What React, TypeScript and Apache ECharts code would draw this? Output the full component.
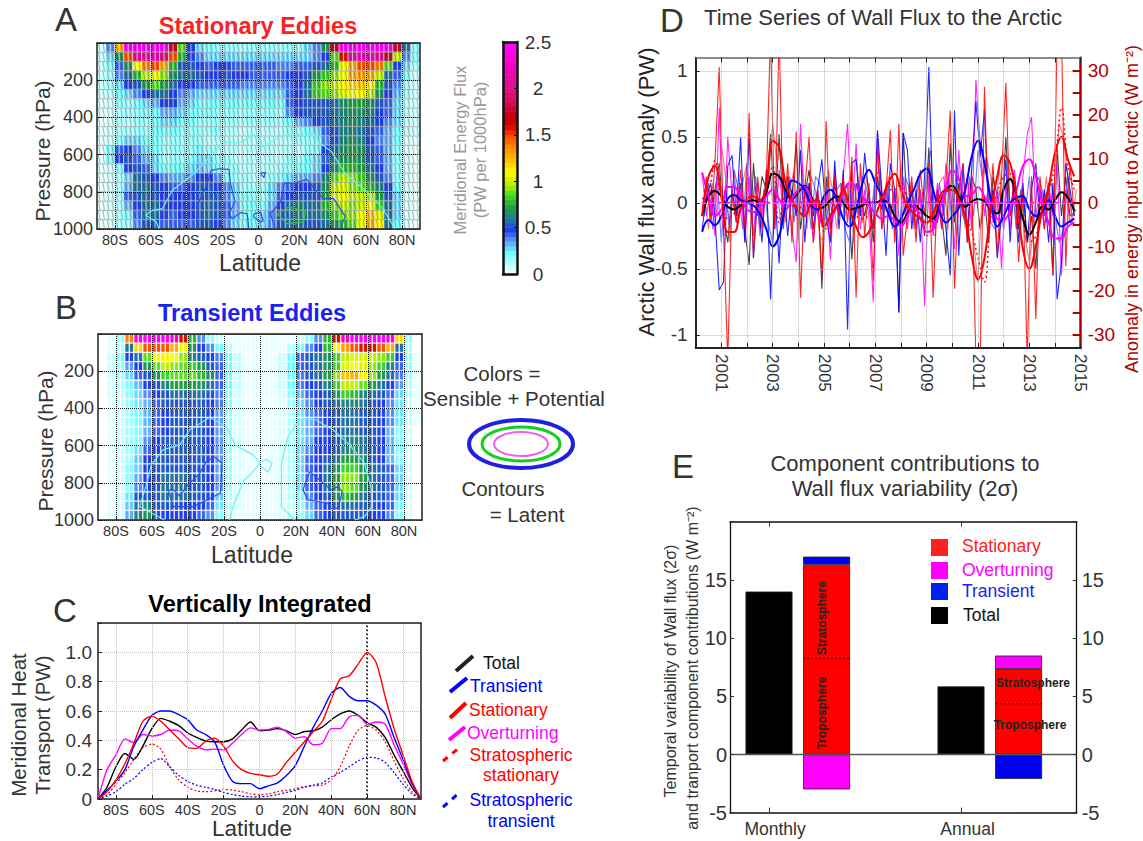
import React, { useEffect, useRef } from "react";
import * as echarts from "echarts";

const FONT = "Liberation Sans";
const INK = "#333333";

const colorStops = ["#ffffff","#c0ffff","#70ffff","#60a0ff","#2040f0","#208090","#20a040","#40e020","#c0f000","#ffff00","#ffc000","#ff9000","#ff5000","#d00000","#c00010","#d01050","#e01080","#e010a0","#f000c0","#ff00e0","#ff00ff"];
const colorbarLevels = [.05,.1,.15,.2,.25,.3,.35,.4,.45,.5,.55,.6,.65,.7,.75,.8,.85,.9,.95,1,1.05,1.1,1.15,1.2,1.25,1.3,1.35,1.4,1.45,1.5,1.55,1.6,1.65,1.7,1.75,1.8,1.85,1.9,1.95,2,2.05,2.1,2.15,2.2,2.25,2.3,2.35,2.4,2.45,2.5];

const cellLats = [-87.5,-82.5,-77.5,-72.5,-67.5,-62.5,-57.5,-52.5,-47.5,-42.5,-37.5,-32.5,-27.5,-22.5,-17.5,-12.5,-7.5,-2.5,2.5,7.5,12.5,17.5,22.5,27.5,32.5,37.5,42.5,47.5,52.5,57.5,62.5,67.5,72.5,77.5,82.5,87.5];
const cellPressures = [25,75,125,175,225,275,325,375,425,475,525,575,625,675,725,775,825,875,925,975];
const latTicks = [-80,-60,-40,-20,0,20,40,60,80];

const stationaryField = [
[.1,.4,1.3,2.5,2.5,2.5,2.5,2.5,1.8,.9,.5,.3,.25,.2,.2,.2,.2,.2,.2,.2,.2,.2,.2,.3,.4,.7,1.8,2.5,2.5,2.5,2.5,2.5,2.5,1.8,.6,.2],
[.1,.3,.7,1.5,2,2.2,2.2,2,1.5,.8,.5,.4,.3,.3,.3,.3,.3,.3,.3,.3,.3,.3,.3,.3,.4,.5,.9,1.6,2.1,2.2,2.2,2.1,1.8,1,.4,.2],
[.1,.25,.45,.7,1.1,1.4,1.5,1.3,.8,.55,.55,.5,.45,.5,.5,.45,.45,.45,.45,.45,.4,.4,.45,.45,.55,.6,.8,1.1,1.3,1.5,1.5,1.4,.9,.5,.3,.15],
[.1,.2,.4,.6,.8,1,1.1,.95,.7,.6,.6,.55,.5,.5,.55,.5,.5,.45,.45,.45,.45,.5,.5,.55,.75,.85,.95,1.1,1.3,1.35,1.3,1,.6,.45,.25,.1],
[.1,.2,.3,.5,.55,.75,.9,.75,.6,.5,.5,.45,.45,.45,.45,.45,.4,.4,.4,.4,.4,.45,.5,.6,.85,.95,1,1.15,1.2,1.25,1.15,.8,.55,.4,.2,.1],
[.1,.15,.25,.3,.4,.5,.6,.6,.5,.4,.35,.3,.3,.3,.3,.3,.3,.3,.3,.3,.3,.45,.5,.6,.85,.9,.95,1.05,1.1,1.15,1,.7,.5,.35,.2,.1],
[.05,.1,.2,.2,.25,.3,.35,.5,.5,.35,.3,.25,.25,.25,.25,.25,.25,.25,.25,.25,.25,.45,.5,.55,.55,.55,.6,.7,.75,.75,.7,.55,.45,.3,.15,.1],
[.05,.1,.15,.2,.2,.25,.25,.35,.35,.3,.25,.25,.25,.2,.2,.2,.2,.2,.2,.2,.2,.4,.5,.55,.55,.55,.6,.65,.7,.7,.65,.5,.45,.3,.15,.1],
[.05,.1,.15,.15,.2,.2,.25,.3,.3,.25,.25,.2,.2,.2,.2,.2,.2,.2,.2,.2,.2,.25,.35,.4,.5,.55,.6,.65,.7,.65,.6,.5,.4,.3,.15,.1],
[.05,.1,.15,.2,.2,.2,.25,.25,.25,.2,.2,.2,.2,.2,.15,.15,.15,.15,.15,.15,.15,.2,.2,.25,.3,.45,.55,.65,.65,.6,.55,.45,.35,.25,.15,.1],
[.05,.1,.2,.3,.3,.25,.25,.2,.2,.2,.2,.2,.15,.15,.15,.15,.15,.15,.15,.15,.15,.15,.2,.2,.25,.4,.55,.65,.7,.65,.5,.4,.35,.25,.1,.05],
[.05,.25,.45,.5,.4,.3,.25,.2,.2,.2,.2,.25,.2,.15,.15,.15,.15,.15,.15,.15,.15,.15,.15,.2,.25,.5,.6,.7,.75,.7,.55,.45,.35,.2,.1,.05],
[.05,.25,.5,.55,.45,.35,.3,.2,.2,.2,.25,.3,.3,.2,.2,.15,.15,.15,.15,.15,.15,.2,.2,.25,.3,.45,.65,.7,.75,.7,.55,.45,.35,.2,.1,.05],
[.05,.1,.2,.5,.55,.45,.3,.25,.25,.25,.3,.35,.3,.25,.2,.2,.15,.15,.15,.15,.2,.2,.25,.25,.3,.5,.7,.8,.8,.75,.6,.5,.35,.2,.1,.05],
[.05,.1,.15,.3,.6,.55,.5,.4,.35,.35,.4,.5,.5,.4,.25,.2,.2,.15,.15,.2,.25,.3,.35,.35,.4,.65,.9,1,.95,.85,.7,.55,.4,.2,.1,.05],
[.05,.1,.15,.35,.6,.6,.55,.5,.45,.45,.5,.55,.55,.5,.4,.3,.2,.2,.2,.3,.4,.45,.5,.5,.55,.7,1,1.05,.95,.9,.8,.65,.5,.25,.1,.05],
[.05,.1,.15,.45,.55,.6,.55,.5,.5,.5,.5,.55,.55,.55,.4,.3,.25,.2,.2,.3,.45,.5,.55,.55,.55,.75,1.05,1.1,1,1,1,.75,.55,.3,.1,.05],
[.05,.1,.15,.35,.5,.6,.6,.5,.5,.5,.5,.55,.6,.55,.45,.35,.25,.25,.25,.35,.5,.6,.65,.6,.6,.8,.95,1,.95,1,1.15,.85,.6,.3,.1,.05],
[.05,.1,.15,.25,.45,.6,.6,.5,.45,.5,.5,.55,.6,.55,.45,.35,.25,.25,.3,.4,.55,.6,.65,.6,.6,.7,.85,.95,.95,1.1,1.25,1.05,.6,.3,.1,.05],
[.05,.1,.15,.2,.4,.55,.55,.45,.45,.45,.45,.55,.55,.5,.4,.3,.25,.25,.3,.4,.55,.6,.6,.55,.55,.6,.7,.8,.9,1.1,1.3,1.15,.6,.25,.1,.05],
];
const transientField = [
[0,.05,.2,1.4,2.4,2.5,2.5,2.5,2.3,1.6,.8,.4,.2,.1,.05,.05,.05,.05,.05,.05,.05,.05,.1,.2,.4,.8,1.6,2.3,2.5,2.5,2.5,2.5,2.4,1.2,.2,0],
[0,.05,.15,.6,1.2,1.5,1.5,1.5,1.3,1.1,.7,.5,.4,.25,.15,.05,.05,.05,.05,.05,.05,.15,.25,.4,.5,.8,1.1,1.35,1.5,1.6,1.6,1.5,1.3,.6,.15,0],
[0,.1,.25,.5,.6,.9,1.1,1.15,1.1,.95,.65,.55,.5,.42,.25,.12,.05,.05,.05,.05,.12,.25,.45,.55,.6,.7,.85,1,1.05,1.05,1,.95,.85,.5,.2,.05],
[0,.1,.2,.38,.5,.7,.9,1,.95,.9,.85,.75,.55,.45,.25,.12,.05,.05,.05,.05,.12,.25,.45,.55,.6,.7,.85,1.05,1.1,1.05,.95,.85,.65,.45,.2,.05],
[0,.1,.18,.3,.45,.55,.7,.85,.9,.9,.9,.8,.7,.45,.25,.12,.05,.05,.05,.05,.12,.25,.42,.55,.6,.75,.95,1.25,1.3,1.15,.95,.75,.6,.42,.18,.05],
[0,.08,.15,.25,.35,.5,.55,.65,.75,.75,.75,.7,.6,.45,.25,.12,.05,.05,.05,.05,.12,.25,.42,.5,.55,.65,.85,1,1,.9,.75,.6,.5,.38,.15,.05],
[0,.08,.12,.2,.3,.4,.5,.55,.6,.6,.6,.6,.55,.42,.22,.1,.05,.05,.05,.05,.1,.2,.35,.45,.5,.55,.7,.85,.8,.65,.6,.55,.45,.3,.15,.05],
[0,.05,.12,.2,.28,.35,.45,.55,.55,.55,.55,.55,.5,.42,.22,.1,.05,.05,.05,.05,.08,.18,.3,.4,.5,.55,.6,.65,.65,.6,.55,.5,.4,.28,.12,.05],
[0,.05,.1,.18,.25,.35,.45,.5,.55,.55,.55,.55,.5,.38,.2,.08,.05,.05,.05,.05,.08,.15,.28,.4,.45,.5,.55,.6,.6,.55,.55,.5,.4,.28,.12,.05],
[0,.05,.1,.18,.22,.35,.45,.5,.55,.55,.55,.55,.5,.38,.18,.08,.05,.05,.05,.05,.08,.15,.28,.35,.45,.5,.55,.6,.6,.55,.55,.5,.4,.28,.12,.05],
[0,.05,.1,.18,.22,.35,.45,.5,.55,.55,.55,.55,.5,.38,.18,.08,.05,.05,.05,.05,.08,.15,.28,.35,.45,.5,.55,.6,.6,.55,.55,.5,.35,.22,.1,0],
[0,.05,.1,.18,.22,.4,.5,.55,.55,.55,.55,.55,.5,.38,.18,.08,.05,.05,.05,.05,.08,.15,.28,.35,.5,.5,.55,.6,.65,.6,.55,.5,.35,.22,.1,0],
[0,.05,.1,.18,.28,.45,.5,.55,.55,.55,.55,.55,.5,.38,.18,.08,.05,.05,.05,.05,.08,.15,.3,.4,.5,.5,.55,.65,.7,.6,.55,.5,.35,.22,.1,0],
[0,.05,.1,.18,.32,.5,.55,.55,.55,.55,.55,.55,.5,.38,.18,.08,.05,.05,.05,.05,.08,.15,.3,.45,.5,.55,.6,.75,.75,.65,.55,.5,.35,.22,.1,0],
[0,.05,.1,.22,.32,.5,.55,.55,.55,.55,.55,.55,.5,.38,.18,.08,.05,.05,.05,.05,.08,.15,.3,.45,.5,.6,.7,.85,.85,.7,.6,.55,.45,.3,.1,0],
[0,.05,.1,.22,.36,.5,.55,.6,.6,.6,.55,.55,.5,.38,.18,.08,.05,.05,.05,.05,.08,.15,.3,.45,.5,.6,.75,.95,.95,.75,.6,.55,.45,.3,.1,0],
[0,.05,.1,.22,.4,.5,.55,.6,.6,.6,.55,.55,.5,.38,.18,.08,.05,.05,.05,.05,.08,.15,.3,.45,.5,.6,.75,.95,.9,.7,.6,.55,.45,.3,.1,0],
[0,.05,.1,.28,.55,.55,.55,.6,.6,.6,.55,.55,.5,.32,.15,.08,.05,.05,.05,.05,.08,.15,.25,.4,.5,.55,.7,.8,.75,.6,.55,.55,.45,.3,.1,0],
[0,.05,.1,.32,.6,.65,.55,.55,.55,.5,.5,.5,.45,.28,.15,.08,.05,.05,.05,.05,.08,.12,.2,.35,.45,.5,.55,.6,.6,.55,.55,.5,.45,.25,.08,0],
[0,.05,.1,.36,.65,.7,.55,.5,.5,.5,.5,.45,.4,.22,.12,.05,.05,.05,.05,.05,.08,.12,.2,.3,.45,.5,.55,.55,.55,.55,.5,.5,.4,.2,.08,0],
];

const contoursA = [
  { color: "#3050e0", pts: [[-34.4,998],[-33.7,864],[-29.4,774],[-26.3,685],[-22,676],[-16.5,679],[-15.6,756],[-13,855],[-16.5,918],[-14.6,944],[-10,912],[-6.3,918],[-5.4,998]] },
  { color: "#3050e0", pts: [[-2.6,918],[1.3,912],[2.6,957],[1.1,962],[-2.6,935],[-2.6,918]] },
  { color: "#3050e0", pts: [[1.1,699],[3.9,697],[3,724],[1.1,699]] },
  { color: "#3050e0", pts: [[9.4,998],[6.7,918],[12.2,855],[14.6,751],[19.6,756],[27,733],[32.6,801],[36.3,837],[41.9,837],[48.3,932],[45.6,998]] },
  { color: "#40c040", pts: [[10.4,918],[16.9,882],[26.1,903],[25.2,962],[15.9,971],[10.4,918]] },
  { color: "#70f0f0", pts: [[-55.4,998],[-57,962],[-62.8,926],[-60,903],[-53.5,890],[-48,792],[-36.9,710],[-25.7,600],[-20.2,532],[-10.9,538],[-1.7,493],[2,559],[13.1,500],[30.7,484],[33.5,532],[40.9,586],[48.3,703],[59.4,792],[68.7,882],[76.1,998]] },
];
const contoursB = [
  { color: "#70f0f0", pts: [[-53,1000],[-65,937],[-66.9,928],[-63,808],[-60.4,704],[-53.9,623],[-44.6,596],[-39,515],[-28,449],[-18.7,497],[-14,596],[-3.9,650],[0,693],[-3.9,740],[-9.4,794],[-15,929],[-16.9,1000]] },
  { color: "#70f0f0", pts: [[0,693],[3.5,673],[6.7,695],[4.4,743],[0,705]] },
  { color: "#70f0f0", pts: [[19.3,1000],[11.9,928],[11.9,695],[15.6,551],[22,461],[30.4,458],[40.6,515],[49.8,596],[58.1,695],[61.9,838],[61.9,928],[58.1,982],[52.6,1000]] },
  { color: "#3050e0", pts: [[-51,838],[-48.3,928],[-37,928],[-22,856],[-21.1,695],[-25.2,662],[-29.8,686],[-33.5,749],[-40.9,820],[-44.6,872],[-48,838],[-51,838]] },
  { color: "#3050e0", pts: [[27.6,740],[23.9,838],[26.6,892],[37.8,910],[38.7,937],[43.3,937],[45.7,847],[43.3,820],[39.6,838],[27.6,740]] },
];

const latC = [-90,-85,-80,-75,-70,-65,-60,-55,-50,-45,-40,-35,-30,-25,-20,-15,-10,-5,0,5,10,15,20,25,30,35,40,45,50,55,60,65,70,75,80,85,90];
const totalC = [0,.08,.22,.31,.27,.36,.48,.55,.53,.5,.45,.42,.395,.39,.39,.41,.47,.525,.465,.47,.48,.465,.44,.46,.465,.49,.54,.58,.6,.57,.52,.49,.42,.3,.19,.08,0];
const transientC = [0,.06,.12,.2,.36,.47,.57,.6,.6,.575,.54,.47,.44,.39,.23,.12,.105,.105,.07,.09,.11,.16,.23,.36,.49,.6,.72,.76,.7,.67,.67,.64,.58,.42,.27,.11,0];
const stationaryC = [0,.05,.13,.24,.38,.53,.565,.53,.47,.41,.35,.345,.395,.415,.36,.26,.2,.175,.165,.155,.17,.25,.32,.39,.46,.53,.68,.82,.84,.92,1,.93,.7,.48,.3,.12,0];
const overturningC = [0,.2,.3,.41,.385,.44,.43,.44,.47,.465,.41,.36,.335,.34,.335,.38,.44,.485,.47,.475,.49,.46,.415,.425,.37,.38,.48,.48,.56,.57,.51,.525,.51,.37,.24,.1,0];
const stratStationaryC = [0,.03,.1,.18,.27,.35,.375,.34,.22,.13,.08,.055,.05,.055,.065,.06,.05,.035,.03,.035,.05,.06,.07,.085,.09,.095,.13,.22,.36,.47,.5,.47,.39,.26,.14,.05,0];
const stratTransientC = [0,.02,.05,.1,.14,.2,.25,.275,.22,.16,.12,.095,.08,.065,.045,.03,.02,.015,.015,.02,.03,.045,.06,.08,.095,.11,.15,.18,.22,.26,.285,.28,.25,.18,.1,.035,0];

// Panel D: bi-monthly thin traces (from 2000.25) and quarterly thick traces (from 2000.25)
const thinRed = [-.1,.2,-.15,.3,1.03,-.2,-1.2,.1,-.15,.25,-.2,.68,-.42,.2,-.2,.15,1.3,-.2,1.3,-.2,.3,-.3,.54,-.72,.1,.5,-.3,.1,-.58,.62,-.25,.2,-.1,.2,-.15,.35,-.72,.3,-.25,.15,-.59,.43,-.2,.1,.55,-.3,.6,-.4,-.1,.2,-.3,.25,-.1,.3,-.72,.1,-.2,.15,.7,-.65,.1,.3,-.3,.2,-1.2,-1.2,.88,-.2,.3,-.4,.2,.91,-.1,.2,-.45,.1,-1.2,.2,-.88,.2,-.2,.15,-.55,1.3,1.3,-.48,.3,-.1];
const thinBlue = [-.2,.05,.15,-.1,-.66,-.6,.28,.36,-.1,.5,-.3,.53,-.42,.05,-.3,.25,-.73,.1,-.46,.2,-.25,.1,-.1,.4,-.3,.15,-.2,.1,.33,-.1,-.3,.32,-.2,.25,-.96,.3,.33,-.1,.38,.05,-.2,.55,.1,-.4,.3,.1,-.83,.53,.4,-.2,.1,-.3,.2,1.03,-.1,-.15,.05,-.2,-.55,.7,-.4,.3,-.3,.25,.77,.35,.7,-.1,.1,-.42,-.1,.33,-.3,.2,-.3,.15,-.3,.1,.3,-.15,.1,-.3,.15,-.73,-.45,.3,.1,-.1];
const thinMagenta = [.23,-.1,.1,-.25,.72,-.25,.5,.05,-.15,.1,-.3,.2,-.25,.15,-.1,.12,.2,-.2,.25,-.1,.15,-.2,-.45,.6,-.1,.15,-.3,.1,-.15,.1,-.43,.25,-.1,.2,.6,-.1,.45,-.2,.1,-.1,-.75,.53,-.2,.15,-.1,.1,-.4,.2,-.2,.15,-.2,.1,-.78,.2,-.25,.15,-.2,.3,.1,-.35,.4,-.1,.2,-.2,.93,.45,-.1,.15,-.15,.1,-.5,.15,-.2,.25,-.15,.2,.52,.65,-.1,.1,-.2,.15,-.1,.3,-.55,.1,-.15,-.15];
const thinBlack = [-.1,.17,-.1,.1,.3,-.1,-.3,.1,-.1,.15,-.2,-.47,.3,-.1,.2,.1,.52,-.1,.52,-.1,.2,.05,.45,-.2,.05,.25,-.1,.1,-.65,.2,-.2,.15,-.1,.1,.15,-.43,.15,.05,-.1,.1,-.3,.2,-.05,.1,-.1,.1,-.83,.53,-.1,.1,-.2,.1,-.25,.42,-.2,.1,-.1,-.4,.45,-.15,.15,-.1,-.2,.2,.1,-.2,.05,-.3,.2,.05,-.1,.5,-.1,.15,-.2,.1,-.3,-.1,-.5,.1,-.1,.15,-.55,.42,-.1,.2,-.1,-.08];
const thinRed2 = [.1,-.2,.15,-.1,.45,.2,-.3,.25,-.1,.15,.3,-.15,.2,-.25,.1,.2,.6,.3,.4,-.15,.1,.25,-.3,.3,-.2,.2,.1,-.25,-.3,.25,.1,-.2,.15,-.1,.2,-.3,.2,-.15,.2,-.1,.2,.25,-.15,.2,.1,-.2,.3,-.1,.15,-.2,.15,-.1,.2,-.2,-.25,.15,.2,-.2,.35,-.25,.2,-.2,.15,-.3,-.6,.1,.35,.2,-.15,.3,-.2,.3,.15,-.2,.1,-.25,-.45,-.2,.15,-.1,.2,-.2,.2,.6,.5,.2,-.15,.1];
const thinBlue2 = [-.1,.15,-.2,.2,-.3,.1,-.2,.25,.1,-.2,.3,-.1,.2,-.2,.1,-.15,-.3,.15,-.2,.1,.2,-.15,.2,-.1,.15,-.2,.2,.15,-.1,.2,-.15,.1,.15,-.2,-.3,.15,-.1,.2,.1,-.15,.2,.25,-.1,.15,-.2,.1,-.3,.2,.1,-.15,.2,-.1,.25,.4,-.2,.15,-.1,.2,-.2,.3,.1,-.15,.2,-.1,.4,.2,.35,-.15,-.2,.1,-.2,.2,.15,-.2,.1,-.1,.2,-.15,.2,.1,-.15,.2,-.1,-.3,-.2,.2,-.1,-.05];
const thickRed = [-.1,.2,.28,.05,-.22,-.22,-.05,.03,.05,.02,.12,.47,.42,.15,.02,-.06,-.1,0,.02,-.18,-.1,-.02,.1,-.05,-.18,-.26,-.22,-.1,.03,.15,.22,.1,-.03,-.08,-.12,-.15,-.08,.05,.1,.1,.03,-.1,-.4,-.58,-.42,-.05,.2,.36,.3,.05,-.35,-.5,-.33,-.05,.12,.38,.5,.33,.2];
const thickBlue = [-.22,-.13,-.17,-.1,.03,.06,.02,0,-.02,-.08,-.2,-.33,-.25,-.02,.17,.15,.1,-.02,-.05,.05,.1,.03,-.12,-.18,-.05,.15,.25,.15,.05,-.08,-.18,-.12,0,.1,.22,.26,.1,-.07,-.15,-.1,-.04,.1,.35,.47,.3,.02,-.18,-.1,0,.04,.05,-.05,-.1,-.07,.02,-.1,-.18,-.15,-.12];
const thickMagenta = [.23,.05,-.1,-.05,.12,.12,.04,-.05,-.07,-.03,.05,.1,.03,-.05,.03,.1,.12,.03,-.08,-.17,-.12,-.03,.07,.15,.12,.05,-.02,-.08,-.12,-.1,-.13,-.18,-.1,-.02,-.12,-.22,-.2,-.05,.12,.25,.18,.05,.06,.12,.05,-.05,-.12,-.13,-.05,.1,.28,.33,.2,0,-.15,-.27,-.27,-.18,-.15];
const thickBlack = [-.1,.05,.09,.05,-.03,-.05,-.02,.01,.02,0,.08,.22,.2,.1,.03,.08,.13,.05,-.05,-.03,.02,.05,0,-.05,-.04,-.02,0,0,.02,0,-.1,-.15,-.08,-.02,-.05,-.1,-.12,-.02,.1,.13,.05,-.03,.01,.03,.01,-.05,-.08,.1,.18,.05,-.12,-.24,-.15,-.03,-.05,.02,.08,.04,-.06];
const dashedRed = [.03,.08,.32,.03,-.12,-.08,0,.03,.05,-.03,.08,.28,-.15,.05,-.02,-.05,.05,.02,.03,-.22,-.08,.02,.08,-.03,-.1,-.12,-.1,-.08,.05,.1,.1,.15,.03,-.05,-.08,-.25,-.1,.03,.08,.1,.02,-.1,-.22,-.42,-.6,-.1,.08,.2,.22,.08,-.12,-.3,-.25,-.05,.08,.3,.72,.28,.1];
const zeroLine = [[2000.25,0],[2014.75,0]];
const wallTicks = [-1,-.5,0,.5,1];
const energyLabelTicks = [-30,-20,-10,0,10,20,30];
const energyTicks = [-30,-25,-20,-15,-10,-5,0,5,10,15,20,25,30];

// Panel E: [Monthly, Annual]
const totalE = [14,5.85];
const stationaryE = [16.3,7.35];
const transientE = [.7,-2.1];
const overturningE = [-3,1.15];
const dividerMonthly = [[1.177,8.25],[1.421,8.25]];
const dividerAnnual = [[2.179,4.35],[2.422,4.35]];
const barSlots = ["","","Monthly","","","Monthly parts","","","","","","","Annual","","","Annual parts","","",""];

const T = (text: string, x: number, y: number, size: number, fill = INK, o: any = {}) => ({
  type: "text", x, y, rotation: o.rot || 0, z: 100,
  style: { text, x: 0, y: 0, fill, font: `${o.weight || "normal"} ${size}px "${FONT}"`, textAlign: o.align || "center", textVerticalAlign: "middle", opacity: o.opacity ?? 1 },
});
const UP = Math.PI / 2;
const seg = (x1: number, y1: number, x2: number, y2: number, stroke: string, lineWidth: number, lineDash?: number[]) => ({
  type: "line", z: 100, shape: { x1, y1, x2, y2 }, style: { stroke, lineWidth, lineDash },
});

function buildOption() {
  const grid: any[] = [], xAxis: any[] = [], yAxis: any[] = [], series: any[] = [], heatIdx: number[] = [];
  const rect = (l: number, t: number, r: number, b: number) => ({ left: l, top: t, width: r - l, height: b - t, containLabel: false });
  const hiddenCat = (g: number, n: number, extra: any = {}) => ({ type: "category", gridIndex: g, show: false, data: Array.from({ length: n }, (_, i) => i), ...extra });
  const frame = { show: true, onZero: false, lineStyle: { color: "#222", width: 1.5 } };
  const latFormat = (v: number) => (v === 0 ? "0" : v < 0 ? `${-v}S` : `${v}N`);

  const addLatAxes = (g: number, gridColor: string, gridWidth: number) => {
    const xi = xAxis.length;
    xAxis.push({
      type: "value", gridIndex: g, min: -90, max: 90, position: "bottom", z: 5,
      axisLine: frame, axisTick: { show: true, inside: true, length: 4, customValues: latTicks, lineStyle: { color: "#222" } },
      axisLabel: { customValues: latTicks, formatter: latFormat, color: INK, fontFamily: FONT, fontSize: 14.5, margin: 3 },
      splitLine: { show: true, lineStyle: { color: gridColor, type: "dotted", width: gridWidth } },
    });
    xAxis.push({ type: "value", gridIndex: g, min: -90, max: 90, position: "top", z: 5, axisLine: frame, axisTick: { show: false }, axisLabel: { show: false }, splitLine: { show: false } });
    return xi;
  };

  const heatPanel = (l: number, t: number, r: number, b: number, field: number[][], contours: any[], hatch: boolean, cellBorder: string, cellBorderWidth: number) => {
    const g0 = grid.length;
    grid.push(rect(l, t, r, b));
    const xh = xAxis.length, yh = yAxis.length;
    xAxis.push(hiddenCat(g0, 72));
    yAxis.push(hiddenCat(g0, 20, { inverse: true }));
    const cells: number[][] = [];
    field.forEach((row, ry) => row.forEach((v, c) => { cells.push([2 * c, ry, v]); cells.push([2 * c + 1, ry, v]); }));
    heatIdx.push(series.length);
    series.push({ type: "heatmap", xAxisIndex: xh, yAxisIndex: yh, data: cells, z: 1, itemStyle: { borderColor: cellBorder, borderWidth: cellBorderWidth }, emphasis: { disabled: true } });

    const g1 = grid.length;
    grid.push(rect(l, t, r, b));
    const xi = addLatAxes(g1, "#111", 1);
    const yi = yAxis.length;
    yAxis.push({
      type: "value", gridIndex: g1, min: 0, max: 1000, interval: 200, inverse: true, position: "left", z: 5,
      axisLine: frame, axisTick: { show: true, inside: true, length: 4, lineStyle: { color: "#222" } },
      axisLabel: { formatter: (v: number) => (v === 0 ? "" : String(v)), color: INK, fontFamily: FONT, fontSize: 18, margin: 4 },
      splitLine: { show: true, lineStyle: { color: "#111", type: "dotted", width: 1 } },
    });
    yAxis.push({ type: "value", gridIndex: g1, min: 0, max: 1000, inverse: true, position: "right", z: 5, axisLine: frame, axisTick: { show: false }, axisLabel: { show: false }, splitLine: { show: false } });
    if (hatch) {
      const pts: number[][] = [];
      cellPressures.forEach((p) => cellLats.forEach((la) => pts.push([la, p])));
      series.push({
        type: "custom", coordinateSystem: "cartesian2d", xAxisIndex: xi, yAxisIndex: yi, data: pts, z: 3, silent: true,
        renderItem: (_: any, api: any) => {
          const la = api.value(0), p = api.value(1);
          const kids: any[] = [];
          [-1.25, 1.25].forEach((d) => {
            const a = api.coord([la + d - 0.35, p - 22]), b2 = api.coord([la + d + 0.35, p + 22]);
            kids.push({ type: "line", shape: { x1: a[0], y1: a[1], x2: b2[0], y2: b2[1] }, style: { stroke: "#333", lineWidth: 0.6, opacity: 0.6 } });
          });
          const c = api.coord([la - 2.5, p + 25]), e = api.coord([la + 2.5, p + 25]);
          kids.push({ type: "line", shape: { x1: c[0], y1: c[1], x2: e[0], y2: e[1] }, style: { stroke: "#777", lineWidth: 1, opacity: 0.55 } });
          return { type: "group", children: kids };
        },
      });
    }
    contours.forEach((ct) => series.push({
      type: "line", xAxisIndex: xi, yAxisIndex: yi, data: ct.pts, z: 6, showSymbol: false, silent: true,
      lineStyle: { color: ct.color, width: 1.2 },
    }));
  };

  heatPanel(97, 43, 420, 229, stationaryField, contoursA, true, "rgba(255,255,255,0.6)", 1);
  heatPanel(98, 334, 422, 520, transientField, contoursB, false, "rgba(255,255,255,0.85)", 1.3);

  // Colour bar
  {
    const g0 = grid.length;
    grid.push(rect(503, 42, 517, 274));
    const xh = xAxis.length, yh = yAxis.length;
    xAxis.push(hiddenCat(g0, 1));
    yAxis.push({ type: "category", gridIndex: g0, show: false, data: colorbarLevels });
    heatIdx.push(series.length);
    series.push({ type: "heatmap", xAxisIndex: xh, yAxisIndex: yh, data: colorbarLevels.map((v, i) => [0, i, v]), z: 1, emphasis: { disabled: true } });
    const g1 = grid.length;
    grid.push(rect(503, 42, 517, 274));
    const barLine = { show: true, onZero: false, lineStyle: { color: "#111", width: 2.5 } };
    xAxis.push({ type: "value", gridIndex: g1, min: 0, max: 1, position: "top", z: 5, axisLine: barLine, axisTick: { show: false }, axisLabel: { show: false }, splitLine: { show: false } });
    xAxis.push({ type: "value", gridIndex: g1, min: 0, max: 1, position: "bottom", z: 5, axisLine: barLine, axisTick: { show: false }, axisLabel: { show: false }, splitLine: { show: false } });
    yAxis.push({ type: "value", gridIndex: g1, min: 0, max: 2.5, interval: 0.5, position: "right", z: 5, axisLine: barLine, axisTick: { show: true, inside: true, length: 3, lineStyle: { color: "#111" } }, axisLabel: { color: INK, fontFamily: FONT, fontSize: 19, margin: 21, align: "center" }, splitLine: { show: false } });
    yAxis.push({ type: "value", gridIndex: g1, min: 0, max: 2.5, position: "left", z: 5, axisLine: barLine, axisTick: { show: false }, axisLabel: { show: false }, splitLine: { show: false } });
  }

  // Panel C
  {
    const g = grid.length;
    grid.push(rect(98, 623, 421, 799));
    const xi = addLatAxes(g, "#c4c4c4", 1);
    const yi = yAxis.length;
    yAxis.push({
      type: "value", gridIndex: g, min: 0, max: 1.2, interval: 0.2, position: "left", z: 1,
      axisLine: frame, axisTick: { show: true, inside: true, length: 4, lineStyle: { color: "#222" } },
      axisLabel: { formatter: (v: number) => (v === 0 ? "0" : v >= 1.1 ? "" : v.toFixed(1)), color: INK, fontFamily: FONT, fontSize: 19, margin: 6 },
      splitLine: { show: true, lineStyle: { color: "#c4c4c4", type: "dotted", width: 1 } },
    });
    yAxis.push({ type: "value", gridIndex: g, min: 0, max: 1.2, position: "right", z: 1, axisLine: frame, axisTick: { show: false }, axisLabel: { show: false }, splitLine: { show: false } });
    const add = (name: string, vals: number[], color: string, dashed = false) => series.push({
      name, type: "line", xAxisIndex: xi, yAxisIndex: yi, showSymbol: false, smooth: 0.25, silent: true, z: 3,
      data: vals.map((v, i) => [latC[i], v]),
      lineStyle: { color, width: dashed ? 1.2 : 1.4, type: dashed ? [2, 2] : "solid" },
    });
    add("Stratospheric stationary", stratStationaryC, "#ff0000", true);
    add("Stratospheric transient", stratTransientC, "#0000ff", true);
    add("Total", totalC, "#000000");
    add("Overturning", overturningC, "#ff00ff");
    add("Transient", transientC, "#0000ff");
    add("Stationary", stationaryC, "#ff0000");
    series.push({ type: "line", xAxisIndex: xi, yAxisIndex: yi, showSymbol: false, silent: true, z: 4, data: [[60, 0], [60, 1.2]], lineStyle: { color: "#000", width: 1.6, type: [2, 2] } });
  }

  // Panel D
  {
    const g = grid.length;
    grid.push(rect(695.7, 57.7, 1080.7, 348));
    const xi = xAxis.length;
    const yearTickStyle = { show: true, inside: true, length: 5, lineStyle: { color: "#222" } };
    xAxis.push({
      type: "value", gridIndex: g, min: 2000, max: 2015, interval: 1, position: "bottom", z: 5,
      axisLine: { show: true, onZero: false, lineStyle: { color: "#222", width: 2 } }, axisTick: yearTickStyle,
      axisLabel: { formatter: (v: number) => (v % 2 ? String(v) : ""), rotate: -90, color: INK, fontFamily: FONT, fontSize: 17, margin: 6 },
      splitLine: { show: true, lineStyle: { color: "#b8b8b8", type: "dotted", width: 1 } },
    });
    xAxis.push({ type: "value", gridIndex: g, min: 2000, max: 2015, interval: 1, position: "top", z: 5, axisLine: { show: true, onZero: false, lineStyle: { color: "#666", width: 1.5 } }, axisTick: yearTickStyle, axisLabel: { show: false }, splitLine: { show: false } });
    const yi = yAxis.length;
    yAxis.push({
      type: "value", gridIndex: g, min: -1.1, max: 1.1, position: "left", z: 5,
      axisLine: { show: true, onZero: false, lineStyle: { color: "#222", width: 2 } },
      axisTick: { show: true, inside: true, length: 4, customValues: wallTicks, lineStyle: { color: "#222" } },
      axisLabel: { customValues: wallTicks, formatter: (v: number) => String(v), color: INK, fontFamily: FONT, fontSize: 19, margin: 8 },
      splitLine: { show: true, lineStyle: { color: "#b8b8b8", type: "dotted", width: 1 } },
    });
    yAxis.push({
      type: "value", gridIndex: g, min: -33, max: 33, position: "right", z: 5,
      axisLine: { show: true, onZero: false, lineStyle: { color: "#b00000", width: 2.5 } },
      axisTick: { show: true, inside: true, length: 8, customValues: energyTicks, lineStyle: { color: "#b00000", width: 2 } },
      axisLabel: { customValues: energyLabelTicks, formatter: (v: number) => String(v), color: "#b00000", fontFamily: FONT, fontSize: 19, margin: 7 },
      splitLine: { show: false },
    });
    const addThin = (vals: number[], color: string, start = 2000.25, opacity = 0.85) => series.push({
      type: "line", xAxisIndex: xi, yAxisIndex: yi, showSymbol: false, silent: true, z: 2,
      data: vals.map((v, i) => [start + i / 6, v]), lineStyle: { color, width: 1.1, opacity },
    });
    const addThick = (vals: number[], color: string, dashed = false) => series.push({
      type: "line", xAxisIndex: xi, yAxisIndex: yi, showSymbol: false, silent: true, z: 3, smooth: 0.4,
      data: vals.map((v, i) => [2000.25 + i / 4, v]), lineStyle: { color, width: dashed ? 1.5 : 2, type: dashed ? [2, 3] : "solid" },
    });
    addThin(thinBlack, "#222222");
    addThin(thinRed2, "#ff5050", 2000.33, 0.8);
    addThin(thinBlue2, "#5050ff", 2000.33, 0.8);
    addThin(thinMagenta, "#ff00ff");
    addThin(thinBlue, "#0000ff");
    addThin(thinRed, "#ff0000");
    addThick(dashedRed, "#ff0000", true);
    addThick(thickBlack, "#000000");
    addThick(thickMagenta, "#ff00ff");
    addThick(thickBlue, "#0000ff");
    addThick(thickRed, "#ff0000");
    series.push({ type: "line", xAxisIndex: xi, yAxisIndex: yi, showSymbol: false, silent: true, z: 3, data: zeroLine, lineStyle: { color: "#ff00ff", width: 2, type: [4, 4] } });
  }

  // Panel E
  {
    const gb = grid.length;
    grid.push(rect(721, 521.7, 1085.8, 812.7));
    const xc = xAxis.length, yc = yAxis.length;
    xAxis.push({ type: "category", gridIndex: gb, show: false, data: barSlots });
    yAxis.push({ type: "value", gridIndex: gb, show: false, min: -5, max: 20, splitLine: { show: false } });
    const slotTotal = (vals: number[]) => barSlots.map((_, i) => (i === 2 ? vals[0] : i === 12 ? vals[1] : null));
    const slotParts = (vals: number[]) => barSlots.map((_, i) => (i === 5 ? vals[0] : i === 15 ? vals[1] : null));
    const bar = (name: string, data: any[], color: string, stack: string) => series.push({
      name, type: "bar", xAxisIndex: xc, yAxisIndex: yc, stack, data, barWidth: 47, barGap: "-100%", z: 2, silent: true,
      itemStyle: { color, borderColor: "#222", borderWidth: 0.8 },
    });
    bar("Total", slotTotal(totalE), "#000000", "total");
    bar("Stationary", slotParts(stationaryE), "#ff0000", "parts");
    bar("Transient", slotParts(transientE), "#0000f0", "parts");
    bar("Overturning", slotParts(overturningE), "#ff00ff", "parts");

    const g = grid.length;
    grid.push(rect(730, 521.7, 1076.7, 812.7));
    const xi = xAxis.length;
    const cats = [1, 2];
    const xTick = { show: true, inside: true, length: 5, customValues: cats, lineStyle: { color: "#333" } };
    xAxis.push({
      type: "value", gridIndex: g, min: 0.797, max: 2.598, position: "bottom", z: 5,
      axisLine: { show: true, onZero: false, lineStyle: { color: "#111", width: 1.6 } }, axisTick: xTick,
      axisLabel: { customValues: cats, formatter: (v: number) => (v === 1 ? "Monthly" : "Annual"), color: INK, fontFamily: FONT, fontSize: 17.5, margin: 7, padding: [0, 0, 0, 12] },
      splitLine: { show: false },
    });
    xAxis.push({ type: "value", gridIndex: g, min: 0.797, max: 2.598, position: "top", z: 5, axisLine: { show: true, onZero: false, lineStyle: { color: "#111", width: 1.6 } }, axisTick: xTick, axisLabel: { show: false }, splitLine: { show: false } });
    const yi = yAxis.length;
    const yFmt = (v: number) => (v === 20 ? "" : String(v));
    const yTick = { show: true, inside: true, length: 4, lineStyle: { color: "#333" } };
    yAxis.push({ type: "value", gridIndex: g, min: -5, max: 20, interval: 5, position: "left", z: 5, axisLine: { show: true, onZero: false, lineStyle: { color: "#111", width: 1.3 } }, axisTick: yTick, axisLabel: { formatter: yFmt, color: INK, fontFamily: FONT, fontSize: 20, margin: 3 }, splitLine: { show: false } });
    yAxis.push({ type: "value", gridIndex: g, min: -5, max: 20, interval: 5, position: "right", z: 5, axisLine: { show: true, onZero: false, lineStyle: { color: "#111", width: 1.3 } }, axisTick: yTick, axisLabel: { formatter: yFmt, color: INK, fontFamily: FONT, fontSize: 20, margin: 5 }, splitLine: { show: false } });
    series.push({ type: "line", xAxisIndex: xi, yAxisIndex: yi, showSymbol: false, silent: true, z: 3, data: [[0.797, 0], [2.598, 0]], lineStyle: { color: "#555", width: 1.5 } });
    [dividerMonthly, dividerAnnual].forEach((d) => series.push({ type: "line", xAxisIndex: xi, yAxisIndex: yi, showSymbol: false, silent: true, z: 3, data: d, lineStyle: { color: "#7a0000", width: 1.5, type: [2, 2] } }));
  }

  const RED = "#ff2020", BLUE = "#1a22ee", MAG = "#ff00ff";
  const graphic = [
    T("A", 66, 19, 33), T("B", 66, 307, 33), T("C", 65, 610, 33), T("D", 672, 20, 33), T("E", 683, 466, 33),
    T("Stationary Eddies", 258, 26, 23.5, RED, { weight: "bold" }),
    T("Transient Eddies", 252, 313, 23.5, BLUE, { weight: "bold" }),
    T("Vertically Integrated", 260, 604, 23.5, "#000", { weight: "bold" }),
    T("Latitude", 260, 263, 23), T("Latitude", 252, 555, 23), T("Latitude", 252, 828, 22.5),
    T("Pressure (hPa)", 42, 151, 21, INK, { rot: UP }), T("Pressure (hPa)", 45, 441, 21, INK, { rot: UP }),
    T("Meridional Heat", 18, 725, 20.5, INK, { rot: UP }), T("Transport (PW)", 42, 725, 20.5, INK, { rot: UP }),
    T("Meridional Energy Flux", 460, 150, 16.5, "#999999", { rot: UP }), T("(PW per 1000hPa)", 480, 150, 16.5, "#999999", { rot: UP }),
    T("Colors =", 502, 373, 20.5), T("Sensible + Potential", 514, 398, 20.5),
    T("Contours", 503, 488, 20.5), T("= Latent", 527, 514, 20.5),
    { type: "ellipse", z: 100, shape: { cx: 521, cy: 444, rx: 52, ry: 24 }, style: { fill: "none", stroke: "#2020e0", lineWidth: 4 } },
    { type: "ellipse", z: 100, shape: { cx: 521, cy: 444, rx: 39, ry: 17 }, style: { fill: "none", stroke: "#10d020", lineWidth: 3 } },
    { type: "ellipse", z: 100, shape: { cx: 521, cy: 444, rx: 27, ry: 12 }, style: { fill: "none", stroke: "#f060f0", lineWidth: 2 } },
    seg(456, 671, 473, 656, "#222", 4), T("Total", 483, 663, 17.5, "#111", { align: "left" }),
    seg(450, 692, 467, 678, "#0000ff", 4), T("Transient", 470, 686, 17.5, "#0000ff", { align: "left" }),
    seg(450, 718, 466, 703, "#ff0000", 4), T("Stationary", 469, 710, 17.5, "#ff0000", { align: "left" }),
    seg(449, 740, 465, 727, MAG, 4), T("Overturning", 467, 733, 17.5, MAG, { align: "left" }),
    seg(443, 761, 459, 748, "#ff0000", 3, [6, 6]), T("Stratospheric", 521, 755, 17.5, "#ff0000"), T("stationary", 521, 775, 17.5, "#ff0000"),
    seg(443, 807, 459, 793, "#0000ff", 3, [6, 6]), T("Stratospheric", 521, 800, 17.5, "#0000ff"), T("transient", 521, 821, 17.5, "#0000ff"),
    T("Time Series of Wall Flux to the Arctic", 883, 17, 22),
    T("Arctic Wall flux anomaly (PW)", 646, 192, 22, "#222", { rot: UP }),
    T("Anomaly in energy input to Arctic (W m\u207B\u00B2)", 1132, 209, 18, "#b00000", { rot: UP }),
    T("Component contributions to", 905, 463, 22), T("Wall flux variability (2\u03C3)", 905, 488, 22),
    T("Temporal variability of Wall flux (2\u03C3)", 670, 671, 16, INK, { rot: UP }),
    T("and tranport component contributions (W m\u207B\u00B2)", 692, 668, 16, INK, { rot: UP }),
    { type: "rect", z: 100, shape: { x: 931, y: 539, width: 17, height: 17 }, style: { fill: "#ff2020" } }, T("Stationary", 962, 546, 17.5, "#ff2020", { align: "left" }),
    { type: "rect", z: 100, shape: { x: 931, y: 562, width: 17, height: 17 }, style: { fill: MAG } }, T("Overturning", 962, 570, 17.5, MAG, { align: "left" }),
    { type: "rect", z: 100, shape: { x: 931, y: 583, width: 17, height: 17 }, style: { fill: "#0020ee" } }, T("Transient", 962, 591, 17.5, "#1a22ee", { align: "left" }),
    { type: "rect", z: 100, shape: { x: 931, y: 607, width: 17, height: 17 }, style: { fill: "#000" } }, T("Total", 963, 615, 17.5, "#111", { align: "left" }),
    T("Stratosphere", 822, 618, 12, "#222", { rot: UP, weight: "bold" }),
    T("Troposphere", 822, 713, 12, "#222", { rot: UP, weight: "bold" }),
    T("Stratosphere", 1033, 683, 12, "#222", { weight: "bold" }),
    T("Troposphere", 1030, 725, 12, "#222", { weight: "bold" }),
  ];

  return {
    animation: false,
    backgroundColor: "#ffffff",
    textStyle: { fontFamily: FONT },
    grid, xAxis, yAxis, series, graphic,
    visualMap: [{ show: false, type: "continuous", min: 0, max: 2.5, seriesIndex: heatIdx, dimension: 2, inRange: { color: colorStops } }],
  };
}

export default function App() {
  const ref = useRef<HTMLDivElement>(null);
  useEffect(() => {
    document.body.style.margin = "0";
    const chart = echarts.init(ref.current!, undefined, { renderer: "svg" });
    chart.setOption(buildOption() as any);
    return () => chart.dispose();
  }, []);
  return <div ref={ref} style={{ position: "absolute", left: 0, top: 0, width: 1143, height: 841 }} />;
}
